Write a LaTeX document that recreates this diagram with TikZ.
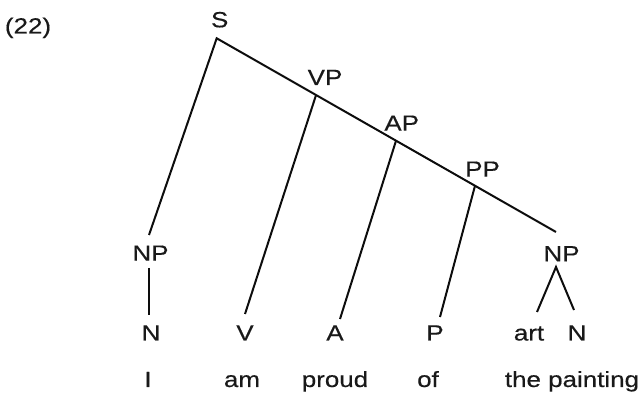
\documentclass[tikz,border=0pt]{standalone}
\usepackage{fontspec}
\setmainfont[FakeStretch=1.18,FakeBold=0.4]{Liberation Sans}
\begin{document}
\begin{tikzpicture}[x=1pt,y=-1pt,
  lbl/.style={anchor=base,inner sep=0pt,font=\fontsize{22}{26}\selectfont,text=black!90},
  edge/.style={line width=2pt,line cap=butt,line join=miter,draw=black!95}]
\useasboundingbox (0,0) rectangle (641,393);
% labels
\node[lbl] (ex) at (28,33.5) {(22)};
\node[lbl] (S) at (219.7,27.3) {S};
\node[lbl] (VP) at (325,85) {VP};
\node[lbl] (AP) at (401.7,130.7) {AP};
\node[lbl] (PP) at (482.5,176.7) {PP};
\node[lbl] (NP1) at (150.5,260.7) {NP};
\node[lbl] (NP2) at (561.5,261.3) {NP};
\node[lbl] (N1) at (151,340.5) {N};
\node[lbl] (V) at (245,340.5) {V};
\node[lbl] (A) at (335,340.5) {A};
\node[lbl] (P) at (435,340.5) {P};
\node[lbl] (art) at (529,340.5) {art};
\node[lbl] (N2) at (577,340.5) {N};
\node[lbl] (wI) at (148,387) {I};
\node[lbl] (wam) at (242,387) {am};
\node[lbl] (wproud) at (335,387) {proud};
\node[lbl] (wof) at (428,387) {of};
\node[lbl] (wpaint) at (572,387) {the painting};
% vertices and line ends
\coordinate (s) at (216.7,38.3);
\coordinate (vp) at (316,95.2);
\coordinate (ap) at (396,140.8);
\coordinate (pp) at (475,185.8);
\coordinate (npend) at (556,232);
\coordinate (np1top) at (149,235);
\coordinate (np1a) at (149,268);
\coordinate (np1b) at (149,315);
\coordinate (vend) at (245,314);
\coordinate (aend) at (340,319);
\coordinate (pend) at (440,317);
\coordinate (np2) at (556,267);
\coordinate (artend) at (537,312);
\coordinate (n2end) at (574,310);
% edges
\draw[edge] (np1top) -- (s) -- (npend);
\draw[edge] (vp) -- (vend);
\draw[edge] (ap) -- (aend);
\draw[edge] (pp) -- (pend);
\draw[edge] (np1a) -- (np1b);
\draw[edge] (artend) -- (np2) -- (n2end);
\end{tikzpicture}
\end{document}
